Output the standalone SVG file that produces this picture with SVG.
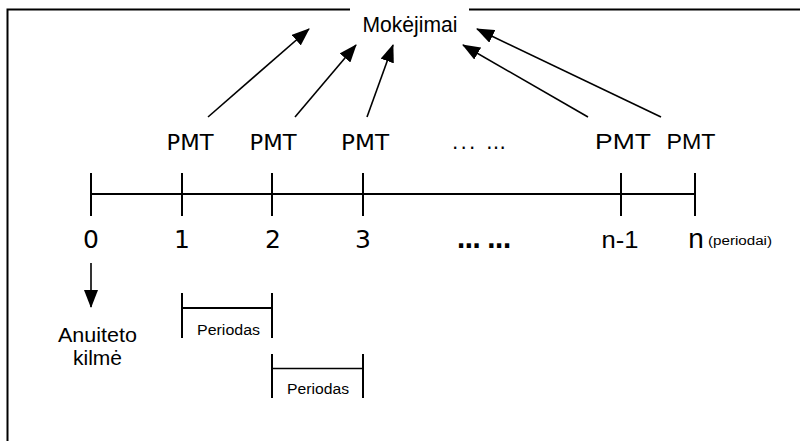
<svg xmlns="http://www.w3.org/2000/svg" width="800" height="441" viewBox="0 0 800 441">
<defs>
<marker id="ah" markerUnits="userSpaceOnUse" markerWidth="18" markerHeight="14" refX="17" refY="7" orient="auto">
<path d="M0,0 L18,7 L0,14 z" fill="#000"/>
</marker>
<style>
.ln{stroke:#000;stroke-width:2;fill:none}
.ar{stroke:#000;stroke-width:1.6;fill:none;marker-end:url(#ah)}
.dv{font-family:"DejaVu Sans",Verdana,sans-serif;fill:#000}
.ls{font-family:"Liberation Sans",Arial,sans-serif;fill:#000}
</style>
</defs>
<rect width="800" height="441" fill="#fff"/>
<g id="frame">
<path class="ln" d="M7.5,445 V9.5 H350 M469,9.5 H805"/>
</g>
<g id="payments">
<text class="ls" x="410" y="32" font-size="22" text-anchor="middle" textLength="95" lengthAdjust="spacingAndGlyphs">Mokėjimai</text>
</g>
<g id="timeline">
<path class="ln" d="M91,194 H695 M91,173 V216 M182,173 V216 M272,173 V216 M363,173 V216 M621,173 V216 M695,173 V216"/>
</g>
<g id="pmt-labels">
<text class="dv" x="190" y="150" font-size="22" text-anchor="middle" textLength="47" lengthAdjust="spacingAndGlyphs">PMT</text>
<text class="dv" x="273" y="150" font-size="22" text-anchor="middle" textLength="47" lengthAdjust="spacingAndGlyphs">PMT</text>
<text class="dv" x="365" y="150" font-size="22" text-anchor="middle" textLength="48" lengthAdjust="spacingAndGlyphs">PMT</text>
<text class="dv" x="479" y="149" font-size="20" text-anchor="middle" textLength="54" lengthAdjust="spacing">... …</text>
<text class="ls" x="623" y="149" font-size="22" text-anchor="middle" textLength="56" lengthAdjust="spacingAndGlyphs">PMT</text>
<text class="ls" x="691" y="149" font-size="22" text-anchor="middle" textLength="49" lengthAdjust="spacingAndGlyphs">PMT</text>
</g>
<g id="period-numbers">
<text class="dv" x="91" y="248" font-size="25" text-anchor="middle">0</text>
<text class="dv" x="182" y="248" font-size="25" text-anchor="middle">1</text>
<text class="dv" x="273" y="248" font-size="25" text-anchor="middle">2</text>
<text class="dv" x="363" y="248" font-size="25" text-anchor="middle">3</text>
<text class="dv" x="484" y="248" font-size="24" font-weight="bold" text-anchor="middle" textLength="55" lengthAdjust="spacing">... ...</text>
<text class="ls" x="620" y="248" font-size="23" text-anchor="middle" textLength="37" lengthAdjust="spacingAndGlyphs">n-1</text>
<text class="ls" x="696" y="248" font-size="28" text-anchor="middle">n</text>
<text class="ls" x="708" y="245" font-size="12" textLength="64" lengthAdjust="spacingAndGlyphs">(periodai)</text>
</g>
<g id="origin">
<text class="ls" x="97.5" y="342" font-size="21" text-anchor="middle" textLength="79" lengthAdjust="spacingAndGlyphs">Anuiteto</text>
<text class="ls" x="97.5" y="365" font-size="21" text-anchor="middle" textLength="49" lengthAdjust="spacingAndGlyphs">kilmė</text>
</g>
<g id="period-1">
<path class="ln" d="M182,293 V338 M272,293 V338 M182,308 H272"/>
<text class="ls" x="228.5" y="335" font-size="14" text-anchor="middle" textLength="63" lengthAdjust="spacingAndGlyphs">Periodas</text>
</g>
<g id="period-2">
<path class="ln" d="M272,354 V398 M363,354 V398"/>
<path d="M272,368.5 H363" stroke="#000" stroke-width="1.3" fill="none"/>
<text class="ls" x="318" y="394" font-size="14" text-anchor="middle" textLength="62" lengthAdjust="spacingAndGlyphs">Periodas</text>
</g>
<g id="connectors">
<path class="ar" d="M208,117 L309,29"/>
<path class="ar" d="M295,117 L356,45"/>
<path class="ar" d="M367,117 L393,45"/>
<path class="ar" d="M588,117 L463,45"/>
<path class="ar" d="M661,117 L477,29"/>
<path class="ar" d="M91,263 V307"/>
</g>
</svg>
